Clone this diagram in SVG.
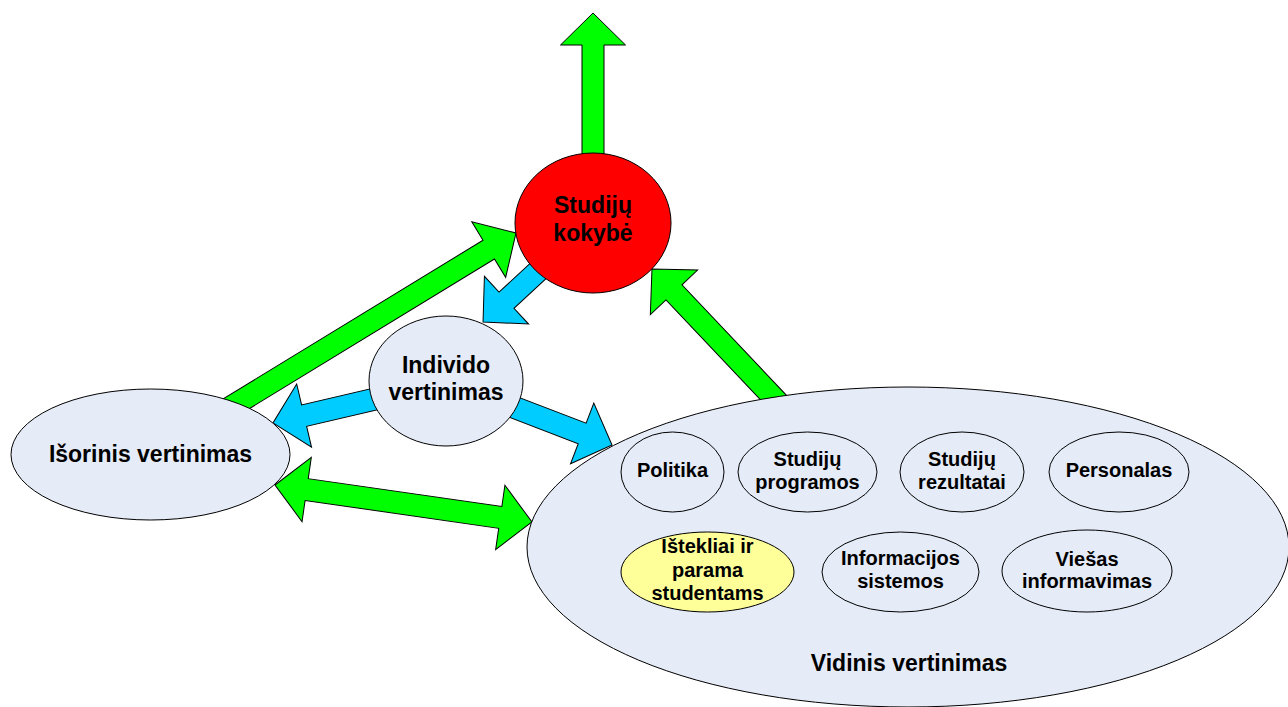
<svg xmlns="http://www.w3.org/2000/svg" width="1288" height="707" viewBox="0 0 1288 707">
  <style>
    .node { stroke: #000; stroke-width: 1; }
    .pale { fill: #E5EBF7; }
    .red { fill: #FF0000; }
    .yellow { fill: #FFFF99; }
    .arrow { stroke: #000; stroke-width: 1; stroke-linejoin: miter; }
    .green { fill: #00FF00; }
    .blue { fill: #00CCFF; }
    text { font-family: "Liberation Sans", Arial, sans-serif; font-weight: bold; fill: #000; text-anchor: middle; }
    .big { font-size: 23px; }
    .small { font-size: 20px; }
  </style>

  <!-- block arrows: local x axis runs from tail (0) to tip -->
  <g id="connectors">
    <polygon id="a-up" class="arrow green" transform="translate(593,165) rotate(-90)"
      points="0,-11 120,-11 120,-32.5 152,0 120,32.5 120,11 0,11"/>
    <polygon id="a-isor-kok" class="arrow green" transform="translate(217.3,415.3) rotate(-31.4)"
      points="0,-11 318,-11 318,-32.5 350,0 318,32.5 318,11 0,11"/>
    <polygon id="a-vid-kok" class="arrow green" transform="translate(789.4,414.4) rotate(-133.4)"
      points="0,-11 168,-11 168,-32.5 200,0 168,32.5 168,11 0,11"/>
    <polygon id="a-kok-ind" class="arrow blue" transform="translate(556.4,254) rotate(137.2)"
      points="0,-11 68,-11 68,-32.5 100,0 68,32.5 68,11 0,11"/>
    <polygon id="a-ind-isor" class="arrow blue" transform="translate(419,388.7) rotate(166.8)"
      points="0,-11 118,-11 118,-32.5 150,0 118,32.5 118,11 0,11"/>
    <polygon id="a-ind-vid" class="arrow blue" transform="translate(472,391.2) rotate(21)"
      points="0,-11 118,-11 118,-32.5 150,0 118,32.5 118,11 0,11"/>
    <polygon id="a-isor-vid" class="arrow green" transform="translate(275,485) rotate(8.19)"
      points="0,0 32,-32.5 32,-11 227.6,-11 227.6,-32.5 259.6,0 227.6,32.5 227.6,11 32,11 32,32.5"/>
  </g>

  <g id="studiju-kokybe">
    <ellipse class="node red" cx="593" cy="223" rx="78" ry="70"/>
    <text class="big" x="593" y="213">Studijų</text>
    <text class="big" x="593" y="241">kokybė</text>
  </g>

  <g id="individo-vertinimas">
    <ellipse class="node pale" cx="446" cy="381" rx="77" ry="65"/>
    <text class="big" x="446" y="373">Individo</text>
    <text class="big" x="446" y="400">vertinimas</text>
  </g>

  <g id="isorinis-vertinimas">
    <ellipse class="node pale" cx="150.5" cy="454.5" rx="139.5" ry="65.5"/>
    <text class="big" x="150.5" y="462">Išorinis vertinimas</text>
  </g>

  <g id="vidinis-vertinimas">
    <ellipse class="node pale" cx="908" cy="547" rx="381" ry="160"/>
    <text class="big" x="909" y="671">Vidinis vertinimas</text>

    <g id="politika">
      <ellipse class="node pale" cx="672.5" cy="472" rx="51.5" ry="40"/>
      <text class="small" x="672.5" y="477">Politika</text>
    </g>
    <g id="studiju-programos">
      <ellipse class="node pale" cx="807.5" cy="472" rx="69.5" ry="40"/>
      <text class="small" x="807.5" y="466">Studijų</text>
      <text class="small" x="807.5" y="489">programos</text>
    </g>
    <g id="studiju-rezultatai">
      <ellipse class="node pale" cx="962" cy="472" rx="62" ry="40"/>
      <text class="small" x="962" y="466">Studijų</text>
      <text class="small" x="962" y="489">rezultatai</text>
    </g>
    <g id="personalas">
      <ellipse class="node pale" cx="1119" cy="472" rx="70" ry="40"/>
      <text class="small" x="1119" y="477">Personalas</text>
    </g>
    <g id="istekliai">
      <ellipse class="node yellow" cx="707.5" cy="572" rx="86.5" ry="40"/>
      <text class="small" x="707.5" y="553">Ištekliai ir</text>
      <text class="small" x="707.5" y="577">parama</text>
      <text class="small" x="707.5" y="600">studentams</text>
    </g>
    <g id="informacijos-sistemos">
      <ellipse class="node pale" cx="900.5" cy="572" rx="78.5" ry="40"/>
      <text class="small" x="900.5" y="565">Informacijos</text>
      <text class="small" x="900.5" y="588">sistemos</text>
    </g>
    <g id="viesas-informavimas">
      <ellipse class="node pale" cx="1087" cy="571" rx="85" ry="41"/>
      <text class="small" x="1087" y="566">Viešas</text>
      <text class="small" x="1087" y="588">informavimas</text>
    </g>
  </g>
</svg>
